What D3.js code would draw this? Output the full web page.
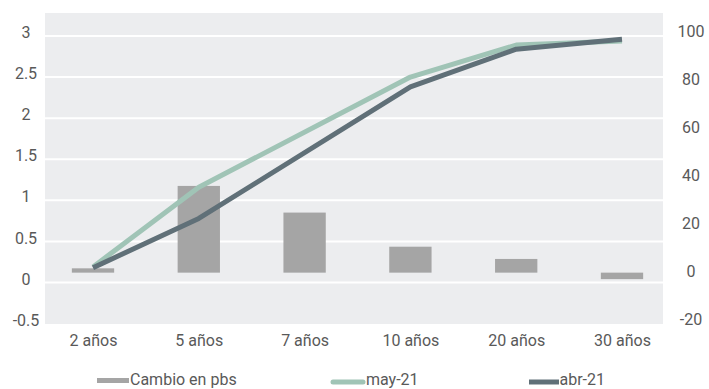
<!DOCTYPE html>
<html>
<head>
<meta charset="utf-8">
<script src="https://cdn.jsdelivr.net/npm/d3@7"></script>
<style>
  html, body { margin: 0; padding: 0; background: #fff; }
  svg { display: block; font-family: Roboto, "Noto Sans", sans-serif; }
</style>
</head>
<body>
<svg id="chart" width="709" height="389"></svg>
<script>
// Plazos de la curva
const categories = ["2 años", "5 años", "7 años", "10 años", "20 años", "30 años"];
// Cambio mensual en puntos base (eje derecho)
const cambioPbs = [1.8, 36.1, 25.0, 10.8, 5.7, -2.7];
// Tasas en % (eje izquierdo); sin dato a 7 años
const may21 = [0.19, 1.16, null, 2.50, 2.89, 2.94];
const abr21 = [0.18, 0.78, null, 2.38, 2.84, 2.96];
// Marcas de los ejes
const leftTicks = [-0.5, 0, 0.5, 1, 1.5, 2, 2.5, 3];
const rightTicks = [-20, 0, 20, 40, 60, 80, 100];

const svg = d3.select("#chart");
const textColor = "#595959";
const plot = { left: 45, right: 663, top: 13, bottom: 324 };

const x = d3.scalePoint().domain(categories).range([93, 622]);
const yL = d3.scaleLinear().domain([-0.5, 3]).range([323.6, 36]);
const yR = d3.scaleLinear().domain([-20, 100]).range([320.7, 32.4]);

// fondo del área de trazado
svg.append("rect")
  .attr("x", plot.left).attr("y", plot.top)
  .attr("width", plot.right - plot.left).attr("height", plot.bottom - plot.top)
  .attr("fill", "#ECEDEF");

// líneas de cuadrícula
svg.append("g").selectAll("line")
  .data(leftTicks.filter(t => t > -0.5))
  .join("line")
  .attr("x1", plot.left).attr("x2", plot.right)
  .attr("y1", d => yL(d)).attr("y2", d => yL(d))
  .attr("stroke", "#fff").attr("stroke-width", 2);

// barras: cambio en pbs
const barW = x.step() * 0.4;
svg.append("g").selectAll("rect")
  .data(categories.map((c, i) => ({ c, v: cambioPbs[i] })))
  .join("rect")
  .attr("x", d => x(d.c) - barW / 2)
  .attr("y", d => yR(Math.max(0, d.v)))
  .attr("width", barW)
  .attr("height", d => Math.abs(yR(d.v) - yR(0)))
  .attr("fill", "#A5A5A5");

// líneas de tasas
const line = d3.line()
  .defined(d => d.v !== null)
  .x(d => x(d.c)).y(d => yL(d.v));
function drawSeries(values, color) {
  const pts = categories.map((c, i) => ({ c, v: values[i] })).filter(d => d.v !== null);
  svg.append("path")
    .datum(pts)
    .attr("d", line)
    .attr("fill", "none")
    .attr("stroke", color)
    .attr("stroke-width", 5)
    .attr("stroke-linejoin", "round");
}
drawSeries(may21, "#A0C4B6");
drawSeries(abr21, "#607078");

// eje izquierdo
const axL = d3.axisLeft(yL).tickValues(leftTicks).tickSize(0).tickFormat(d => String(d));
const gL = svg.append("g").attr("transform", "translate(26,0)").call(axL);
gL.select(".domain").remove();
gL.selectAll("text")
  .attr("x", 0).attr("dy", "0.1em")
  .attr("text-anchor", "middle")
  .attr("font-size", 16).attr("font-family", "Roboto").attr("fill", textColor);

// eje derecho
const axR = d3.axisRight(yR).tickValues(rightTicks).tickSize(0).tickFormat(d => String(d));
const gR = svg.append("g").attr("transform", "translate(691,0)").call(axR);
gR.select(".domain").remove();
gR.selectAll("text")
  .attr("x", 0).attr("dy", 3.7)
  .attr("text-anchor", "middle")
  .attr("font-size", 16).attr("font-family", "Roboto").attr("fill", textColor);

// eje de categorías
const axX = d3.axisBottom(x).tickSize(0);
const gX = svg.append("g").attr("transform", "translate(0,334)").call(axX);
gX.select(".domain").remove();
gX.selectAll("text")
  .attr("y", 0).attr("dy", "0.78em")
  .attr("font-size", 16).attr("font-family", "Roboto").attr("fill", textColor);

// leyenda
const legend = svg.append("g").attr("font-size", 16).attr("fill", textColor);
legend.append("rect").attr("x", 97).attr("y", 378).attr("width", 32).attr("height", 5).attr("fill", "#A5A5A5");
legend.append("text").attr("x", 130).attr("y", 384.5).text("Cambio en pbs");
legend.append("line").attr("x1", 333).attr("x2", 363).attr("y1", 382).attr("y2", 382)
  .attr("stroke", "#A0C4B6").attr("stroke-width", 5).attr("stroke-linecap", "round");
legend.append("text").attr("x", 366).attr("y", 384.5).text("may-21");
legend.append("line").attr("x1", 529).attr("x2", 559).attr("y1", 382).attr("y2", 382)
  .attr("stroke", "#607078").attr("stroke-width", 5);
legend.append("text").attr("x", 559.5).attr("y", 384.5).text("abr-21");
</script>
</body>
</html>
